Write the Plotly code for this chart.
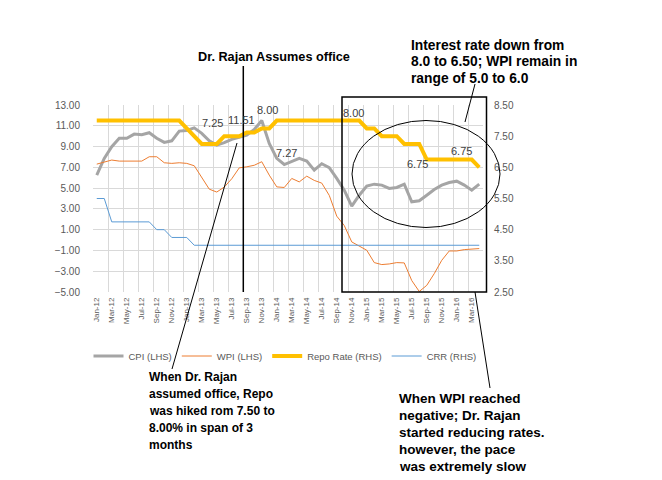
import plotly.graph_objects as go

# ---------------- data ----------------
months = ["Jan-12", "Feb-12", "Mar-12", "Apr-12", "May-12", "Jun-12", "Jul-12", "Aug-12",
          "Sep-12", "Oct-12", "Nov-12", "Dec-12", "Jan-13", "Feb-13", "Mar-13", "Apr-13",
          "May-13", "Jun-13", "Jul-13", "Aug-13", "Sep-13", "Oct-13", "Nov-13", "Dec-13",
          "Jan-14", "Feb-14", "Mar-14", "Apr-14", "May-14", "Jun-14", "Jul-14", "Aug-14",
          "Sep-14", "Oct-14", "Nov-14", "Dec-14", "Jan-15", "Feb-15", "Mar-15", "Apr-15",
          "May-15", "Jun-15", "Jul-15", "Aug-15", "Sep-15", "Oct-15", "Nov-15", "Dec-15",
          "Jan-16", "Feb-16", "Mar-16", "Apr-16"]

cpi = [6.25, 7.86, 8.98, 9.79, 9.79, 10.20, 10.14, 10.33, 9.80, 9.40, 9.55, 10.49,
       10.55, 10.80, 10.27, 9.56, 9.14, 9.37, 9.69, 9.88, 10.10, 10.65, 11.51, 9.30,
       7.86, 7.27, 7.60, 7.86, 7.60, 6.73, 7.35, 6.98, 5.93, 4.80, 3.26, 4.32,
       5.19, 5.38, 5.29, 4.97, 5.06, 5.38, 3.68, 3.78, 4.32, 4.87, 5.29, 5.54,
       5.67, 5.29, 4.80, 5.38]

wpi = [7.31, 7.54, 7.70, 7.60, 7.60, 7.60, 7.60, 8.02, 8.02, 7.44, 7.38, 7.44,
       7.38, 7.15, 6.00, 4.90, 4.62, 5.10, 5.90, 6.95, 7.05, 7.20, 7.54, 6.25,
       5.12, 5.06, 5.93, 5.60, 6.15, 5.74, 5.48, 4.30, 2.30, 1.40, -0.18, -0.60,
       -0.98, -2.17, -2.36, -2.30, -2.17, -2.20, -3.90, -4.95, -4.36, -3.23, -1.95, -1.05,
       -1.05, -0.92, -0.85, -0.82]

repo = [8.00, 8.00, 8.00, 8.00, 8.00, 8.00, 8.00, 8.00, 8.00, 8.00, 8.00, 8.00,
        7.75, 7.50, 7.25, 7.25, 7.25, 7.50, 7.50, 7.50, 7.62, 7.62, 7.75, 7.75,
        8.00, 8.00, 8.00, 8.00, 8.00, 8.00, 8.00, 8.00, 8.00, 8.00, 8.00, 8.00,
        7.75, 7.75, 7.50, 7.50, 7.50, 7.25, 7.25, 7.25, 6.75, 6.75, 6.75, 6.75,
        6.75, 6.75, 6.75, 6.50]

crr = [5.50, 5.50, 4.75, 4.75, 4.75, 4.75, 4.75, 4.75, 4.50, 4.50, 4.25, 4.25,
       4.25, 4.00, 4.00, 4.00, 4.00, 4.00, 4.00, 4.00, 4.00, 4.00, 4.00, 4.00,
       4.00, 4.00, 4.00, 4.00, 4.00, 4.00, 4.00, 4.00, 4.00, 4.00, 4.00, 4.00,
       4.00, 4.00, 4.00, 4.00, 4.00, 4.00, 4.00, 4.00, 4.00, 4.00, 4.00, 4.00,
       4.00, 4.00, 4.00, 4.00]

series_names = ["CPI (LHS)", "WPI (LHS)", "Repo Rate (RHS)", "CRR (RHS)"]

# data-label texts
label_texts = ["7.25", "11.51", "8.00", "7.27", "8.00", "6.75", "6.75"]

# callout texts
title_text = "Dr. Rajan Assumes office"
top_right_lines = ["Interest rate down from", "8.0 to 6.50; WPI remain in", "range of 5.0 to 6.0"]
bottom_left_lines = ["When Dr. Rajan", "assumed office, Repo", "was hiked rom 7.50 to",
                     "8.00% in span of 3", "months"]
bottom_right_lines = ["When WPI reached", "negative; Dr. Rajan", "started reducing rates.",
                      "however, the pace", "was extremely slow"]

# ---------------- layout helpers ----------------
OFF = 8                      # page body margin of the html page
W, H = 662 - OFF, 480 - OFF
L, T = 93 - OFF, 105 - OFF   # plot area left / top in page pixels minus offset
R = W - (483 - OFF)
B = H - (292 - OFF)
PW, PH = W - L - R, H - T - B


def px(x):
    """page pixel x -> paper coordinate"""
    return (x - OFF - L) / PW


def py(y):
    """page pixel y -> paper coordinate"""
    return (H - B - (y - OFF)) / PH


x_idx = list(range(len(months)))
FONT = "Liberation Sans, Arial, sans-serif"
GRID = "#d9d9d9"
TXT = "#595959"

fig = go.Figure()
fig.add_trace(go.Scatter(x=x_idx, y=cpi, name=series_names[0], mode="lines",
                         line=dict(color="#a5a5a5", width=3)))
fig.add_trace(go.Scatter(x=x_idx, y=wpi, name=series_names[1], mode="lines",
                         line=dict(color="#ed7d31", width=1)))
fig.add_trace(go.Scatter(x=x_idx, y=repo, name=series_names[2], mode="lines", yaxis="y2",
                         line=dict(color="#ffc000", width=4)))
fig.add_trace(go.Scatter(x=x_idx, y=crr, name=series_names[3], mode="lines", yaxis="y2",
                         line=dict(color="#5b9bd5", width=1)))

n = len(months)
fig.update_layout(
    width=W, height=H,
    margin=dict(l=L, r=R, t=T, b=B, autoexpand=False),
    paper_bgcolor="white", plot_bgcolor="white",
    font=dict(family=FONT, color=TXT),
    showlegend=True,
    legend=dict(orientation="h", x=px(285), xanchor="center", y=py(356), yanchor="middle",
                font=dict(size=9.5, color=TXT), bgcolor="rgba(0,0,0,0)", itemwidth=30),
    xaxis=dict(range=[-0.5, n - 0.5], tickmode="array",
               tickvals=x_idx[::2], ticktext=months[::2], tickangle=-90,
               tickfont=dict(size=8, color=TXT), showgrid=False, zeroline=False,
               showline=False, ticks="", ticklabelstandoff=3,
               minor=dict(tickmode="array",
                          tickvals=[i - 0.5 for i in range(0, n + 1, 2)],
                          showgrid=True, gridcolor=GRID, gridwidth=1, ticks="")),
    yaxis=dict(range=[-5, 13], tick0=-5, dtick=2, tickformat=".2f",
               tickfont=dict(size=10, color=TXT), showgrid=True, gridcolor=GRID,
               zeroline=False, showline=False, ticks="", ticklabelstandoff=12),
    yaxis2=dict(range=[2.5, 8.5], tick0=2.5, dtick=1, tickformat=".2f", overlaying="y",
                side="right", tickfont=dict(size=10, color=TXT), showgrid=False,
                zeroline=False, showline=False, ticks="", ticklabelstandoff=10),
)

# data labels (positions in axis units)
label_pos = [(15.37, 7.92), (19.25, 8.02), (22.8, 8.34), (25.25, 6.97),
             (34.2, 8.25), (42.8, 6.60), (48.6, 7.02)]
for t, (xx, yy) in zip(label_texts, label_pos):
    fig.add_annotation(x=xx, y=yy, xref="x", yref="y2", text=t, showarrow=False,
                       font=dict(size=11, color="#404040", family=FONT))


def text_block(lines, x_left, y_first, step, size):
    for k, line in enumerate(lines):
        fig.add_annotation(x=px(x_left), y=py(y_first + k * step), xref="paper", yref="paper",
                           text="<b>" + line + "</b>", showarrow=False,
                           xanchor="left", yanchor="middle", align="left",
                           font=dict(size=size, color="black", family=FONT))


fig.add_annotation(x=px(274), y=py(57), xref="paper", yref="paper",
                   text="<b>" + title_text + "</b>", showarrow=False,
                   xanchor="center", yanchor="middle",
                   font=dict(size=12.7, color="black", family=FONT))
text_block(top_right_lines, 409, 45, 16.5, 13.8)
text_block(bottom_left_lines, 147, 377, 17, 12)
text_block(bottom_right_lines, 397, 398, 17, 13.5)

# shapes: vertical marker, rectangle, ellipse, leader lines
line_k = dict(color="black", width=1)
fig.add_shape(type="line", xref="paper", yref="paper", x0=px(243.3), x1=px(243.3),
              y0=py(66), y1=py(292), line=dict(color="black", width=1.5))
fig.add_shape(type="rect", xref="paper", yref="paper", x0=px(342), x1=px(486.5),
              y0=py(97), y1=py(292), line=dict(color="black", width=1.5))
fig.add_shape(type="circle", xref="paper", yref="paper", x0=px(352), x1=px(500),
              y0=py(120.5), y1=py(227.5), line=line_k)
fig.add_shape(type="line", xref="paper", yref="paper", x0=px(475), y0=py(84),
              x1=px(465), y1=py(122), line=line_k)
fig.add_shape(type="line", xref="paper", yref="paper", x0=px(237), y0=py(143),
              x1=px(172), y1=py(369), line=line_k)
fig.add_shape(type="line", xref="paper", yref="paper", x0=px(475), y0=py(292),
              x1=px(490), y1=py(388), line=line_k)

fig.write_html("out.html")
